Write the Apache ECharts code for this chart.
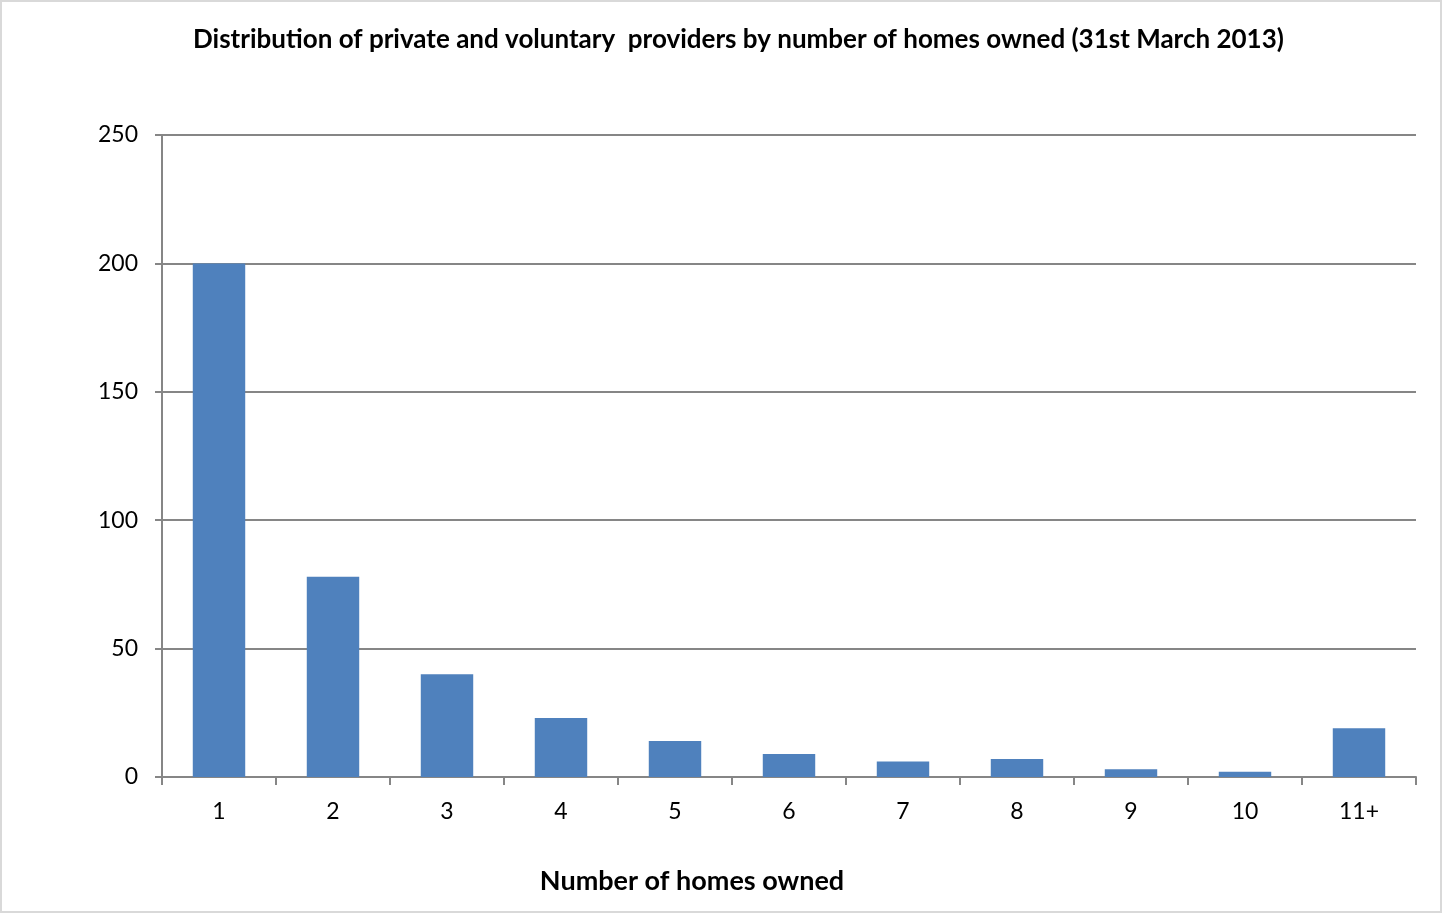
<!DOCTYPE html>
<html lang="en">

<head>
    <meta charset="UTF-8">
    <title>Providers by number of homes owned</title>
    <script src="https://cdn.jsdelivr.net/npm/echarts@6/dist/echarts.min.js"></script>
    <style>
        html, body { margin: 0; padding: 0; background: #fff; }
        #chart {
            width: 1442px; height: 913px;
            box-sizing: border-box;
            border: 2px solid #d9d9d9;
        }
    </style>
</head>

<body>
    <div id="chart"></div>
    <script>
        // 数据
        const categories = ['1', '2', '3', '4', '5', '6', '7', '8', '9', '10', '11+'];
        const providers = [200, 78, 40, 23, 14, 9, 6, 7, 3, 2, 19];
        const yTicks = [0, 50, 100, 150, 200, 250];

        const font = 'Lato, "Open Sans", sans-serif';
        const chart = echarts.init(document.getElementById('chart'));

        const option = {
            animation: false,
            title: {
                text: 'Distribution of private and voluntary  providers by number of homes owned (31st March 2013)',
                left: 186,
                top: 20,
                textStyle: { fontFamily: font, fontWeight: 'bold', fontSize: 26, color: '#000' }
            },
            grid: { left: 160, right: 24, top: 133, bottom: 134 },
            xAxis: {
                type: 'category',
                data: categories,
                name: 'Number of homes owned',
                nameLocation: 'middle',
                nameGap: 91,
                nameTextStyle: {
                    fontFamily: font, fontWeight: 'bold', fontSize: 27, color: '#000',
                    padding: [0, 194, 0, 0]
                },
                axisLine: { lineStyle: { color: '#868686', width: 2 } },
                axisTick: { show: true, alignWithLabel: false, length: 8, lineStyle: { color: '#868686', width: 2 } },
                axisLabel: { fontFamily: font, fontSize: 23, color: '#000', margin: 23 }
            },
            yAxis: {
                type: 'value',
                min: yTicks[0],
                max: yTicks[yTicks.length - 1],
                interval: 50,
                axisLine: { show: true, lineStyle: { color: '#868686', width: 2 } },
                axisTick: { show: true, length: 7, lineStyle: { color: '#868686', width: 2 } },
                axisLabel: { fontFamily: font, fontSize: 23, color: '#000', margin: 24 },
                splitLine: { lineStyle: { color: '#868686', width: 2 } }
            },
            series: [{
                type: 'bar',
                data: providers,
                barWidth: '46%',
                itemStyle: { color: '#4F81BD' }
            }]
        };
        chart.setOption(option);
    </script>
</body>

</html>
